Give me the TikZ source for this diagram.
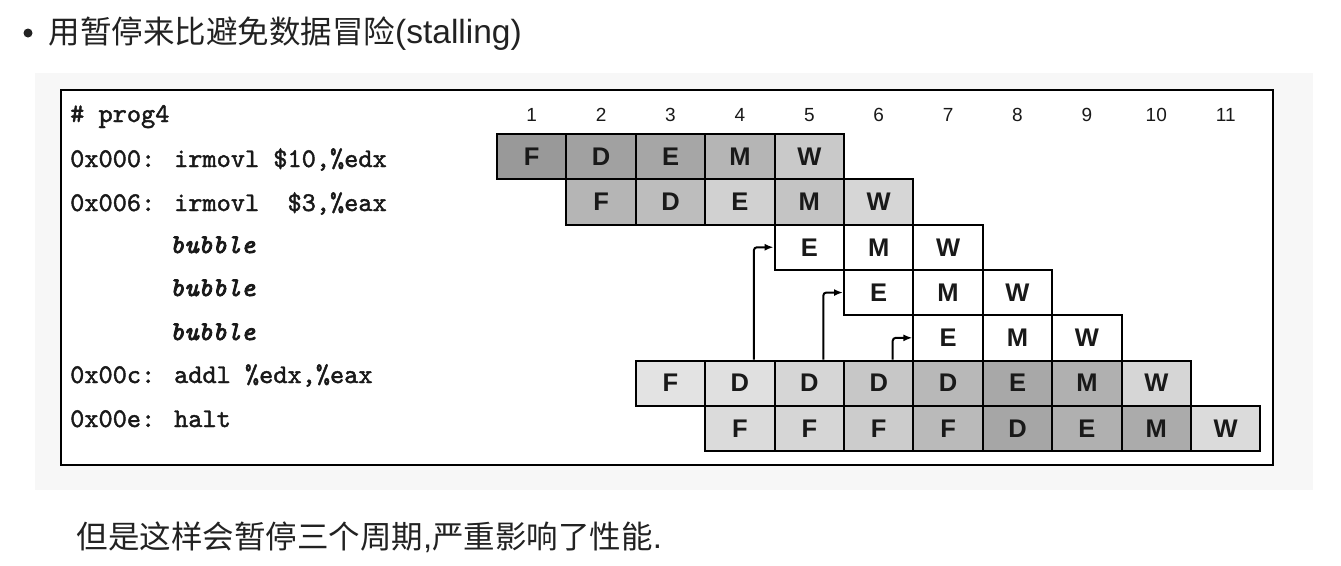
\documentclass[tikz,border=0pt]{standalone}
\usepackage{fontspec}
\newfontfamily\cjk{Noto Sans CJK SC}
\newfontfamily\lat{Liberation Sans}
\newfontfamily\codefont{lmmono10-regular.otf}[FakeBold=1.6]
\newfontfamily\bubfont{lmmono10-italic.otf}[FakeBold=3]
\usetikzlibrary{arrows.meta}
\definecolor{ink}{HTML}{222222}
\definecolor{panel}{HTML}{F7F7F7}
\begin{document}
\begin{tikzpicture}[x=1pt,y=-1pt,
  cell/.style={draw=black, line width=2pt, minimum width=69.4pt, minimum height=45.3pt,
    inner sep=0pt, font=\lat\bfseries\fontsize{25.5}{25.5}\selectfont, text=black!90},
  head/.style={anchor=base, inner sep=0pt, font=\lat\fontsize{19}{19}\selectfont, text=black!90},
  code/.style={anchor=base west, inner sep=0pt, font=\codefont\fontsize{27}{27}\selectfont, text=black!90},
  bub/.style={code, font=\bubfont\fontsize{27}{27}\selectfont},
  fwd/.style={line width=2pt, rounded corners=3pt, -{Latex[length=9pt,width=7pt]}},
  para/.style={anchor=base west, inner sep=0pt, text=ink}]
\useasboundingbox (0,0) rectangle (1341,565);
\fill[white] (0,0) rectangle (1341,565);
% title
\fill[ink] (28,33) circle (4.5);
\node[para] (title) at (48.5,43) {\cjk\fontsize{31.5}{31.5}\selectfont 用暂停来比避免数据冒险{\lat\fontsize{33.5}{33.5}\selectfont(stalling)}};
% panel and frame
\fill[panel] (35,73) rectangle (1313,490);
\draw[line width=2.5pt, fill=white] (61,90) rectangle (1273,465);
% headers
\foreach \c in {1,...,11} {
  \node[head] (h\c) at ({497+69.4*(\c-1)+34.7},121) {\c};
}
% cells
\foreach \r/\c/\t/\s in {
  1/1/F/40, 1/2/D/37, 1/3/E/35, 1/4/M/29, 1/5/W/21,
  2/2/F/29, 2/3/D/26, 2/4/E/18, 2/5/M/23, 2/6/W/16,
  3/5/E/0, 3/6/M/0, 3/7/W/0,
  4/6/E/0, 4/7/M/0, 4/8/W/0,
  5/7/E/0, 5/8/M/0, 5/9/W/0,
  6/3/F/11, 6/4/D/12, 6/5/D/16, 6/6/D/22, 6/7/D/28, 6/8/E/34, 6/9/M/31, 6/10/W/16,
  7/4/F/14, 7/5/F/16, 7/6/F/20, 7/7/F/27, 7/8/D/35, 7/9/E/31, 7/10/M/33, 7/11/W/14} {
  \node[cell, fill=black!\s] (c-\r-\c) at ({497+69.4*(\c-1)+34.7},{134+45.3*(\r-1)+22.65}) {\t};
}
% forwarding arrows
\draw[fwd] ([xshift=14pt]c-6-4.north) |- (c-3-5.west);
\draw[fwd] ([xshift=14pt]c-6-5.north) |- (c-4-6.west);
\draw[fwd] ([xshift=14pt]c-6-6.north) |- (c-5-7.west);
% code
\node[code] (l0) at (70,122) {\# prog4};
\node[code] (l1) at (70,167) {0x000: irmovl \$10,\%edx};
\node[code] (l2) at (70,211) {0x006: irmovl\ \ \$3,\%eax};
\node[bub] (l3) at (170,253) {bubble};
\node[bub] (l4) at (170,296) {bubble};
\node[bub] (l5) at (170,340) {bubble};
\node[code] (l6) at (70,383) {0x00c: addl \%edx,\%eax};
\node[code] (l7) at (70,427) {0x00e: halt};
% bottom text
\node[para] (note) at (76.5,548) {\cjk\fontsize{31.5}{31.5}\selectfont 但是这样会暂停三个周期{\lat\fontsize{33}{33}\selectfont,}严重影响了性能{\lat\fontsize{33}{33}\selectfont.}};
\end{tikzpicture}
\end{document}
